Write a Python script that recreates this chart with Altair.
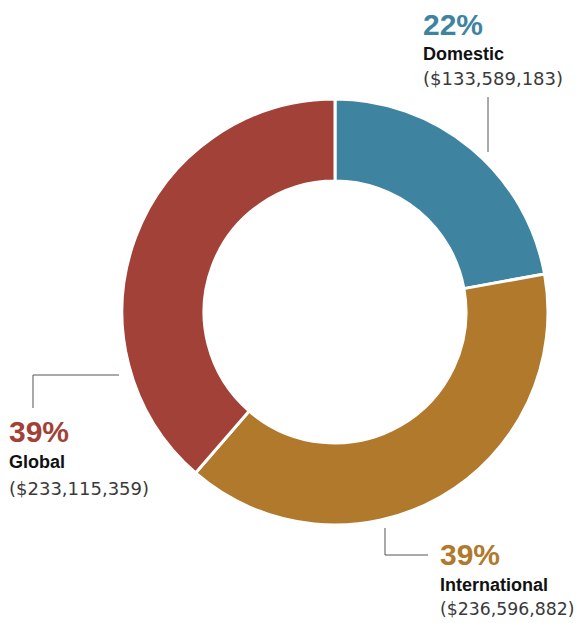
import altair as alt
import pandas as pd

categories = ["Domestic", "International", "Global"]
amounts = [133589183, 236596882, 233115359]
percent_labels = ["22%", "39%", "39%"]
colors = ["#3e84a1", "#b0792c", "#a24137"]

df = pd.DataFrame({"category": categories, "amount": amounts, "order": [0, 1, 2]})

OX, OY = 8, 8  # page margin
cx, cy = 335 - OX, 312 - OY

donut = alt.Chart(df).mark_arc(
    outerRadius=213, innerRadius=131, stroke="white", strokeWidth=3
).encode(
    theta=alt.Theta("amount:Q", stack=True),
    order=alt.Order("order:Q"),
    color=alt.Color("category:N", scale=alt.Scale(domain=categories, range=colors), legend=None),
    x=alt.value(cx), y=alt.value(cy),
)

# label layout (pixel anchors in page coords): left x, baselines, amount font size
layout = {
    "Domestic": (423, [35, 60, 85], 18),
    "International": (440, [565, 591, 615], 17.3),
    "Global": (9, [442, 468, 495], 18),
}

layers = [donut]
base = alt.Chart(pd.DataFrame({"a": [0]}))
for cat, amt, pct, col in zip(categories, amounts, percent_labels, colors):
    lx, (b1, b2, b3), fs = layout[cat]
    layers.append(base.mark_text(align="left", baseline="alphabetic", font="Liberation Sans",
                                 fontWeight="bold", fontSize=30, color=col, text=pct)
                  .encode(x=alt.value(lx - OX), y=alt.value(b1 - OY)))
    layers.append(base.mark_text(align="left", baseline="alphabetic", font="Liberation Sans",
                                 fontWeight="bold", fontSize=18, color="#111111", text=cat)
                  .encode(x=alt.value(lx - OX), y=alt.value(b2 - OY)))
    layers.append(base.mark_text(align="left", baseline="alphabetic", font="DejaVu Sans",
                                 fontWeight="normal", fontSize=fs, color="#3a3a3a",
                                 text=f"(${amt:,})")
                  .encode(x=alt.value(lx - OX), y=alt.value(b3 - OY)))

def seg(x1, y1, x2, y2):
    return base.mark_rule(color="#555555", strokeWidth=1).encode(
        x=alt.value(x1 - OX), x2=alt.value(x2 - OX),
        y=alt.value(y1 - OY), y2=alt.value(y2 - OY))

layers += [
    seg(488, 97, 488, 152),
    seg(33, 375, 119, 375),
    seg(33, 375, 33, 408),
    seg(385, 528, 385, 555),
    seg(385, 555, 428, 555),
]

chart = alt.layer(*layers).properties(
    width=570, height=612, padding=0, autosize="none", background="white"
).configure_view(stroke=None)

chart.save("out.html", embed_options={"renderer": "svg", "actions": False})
